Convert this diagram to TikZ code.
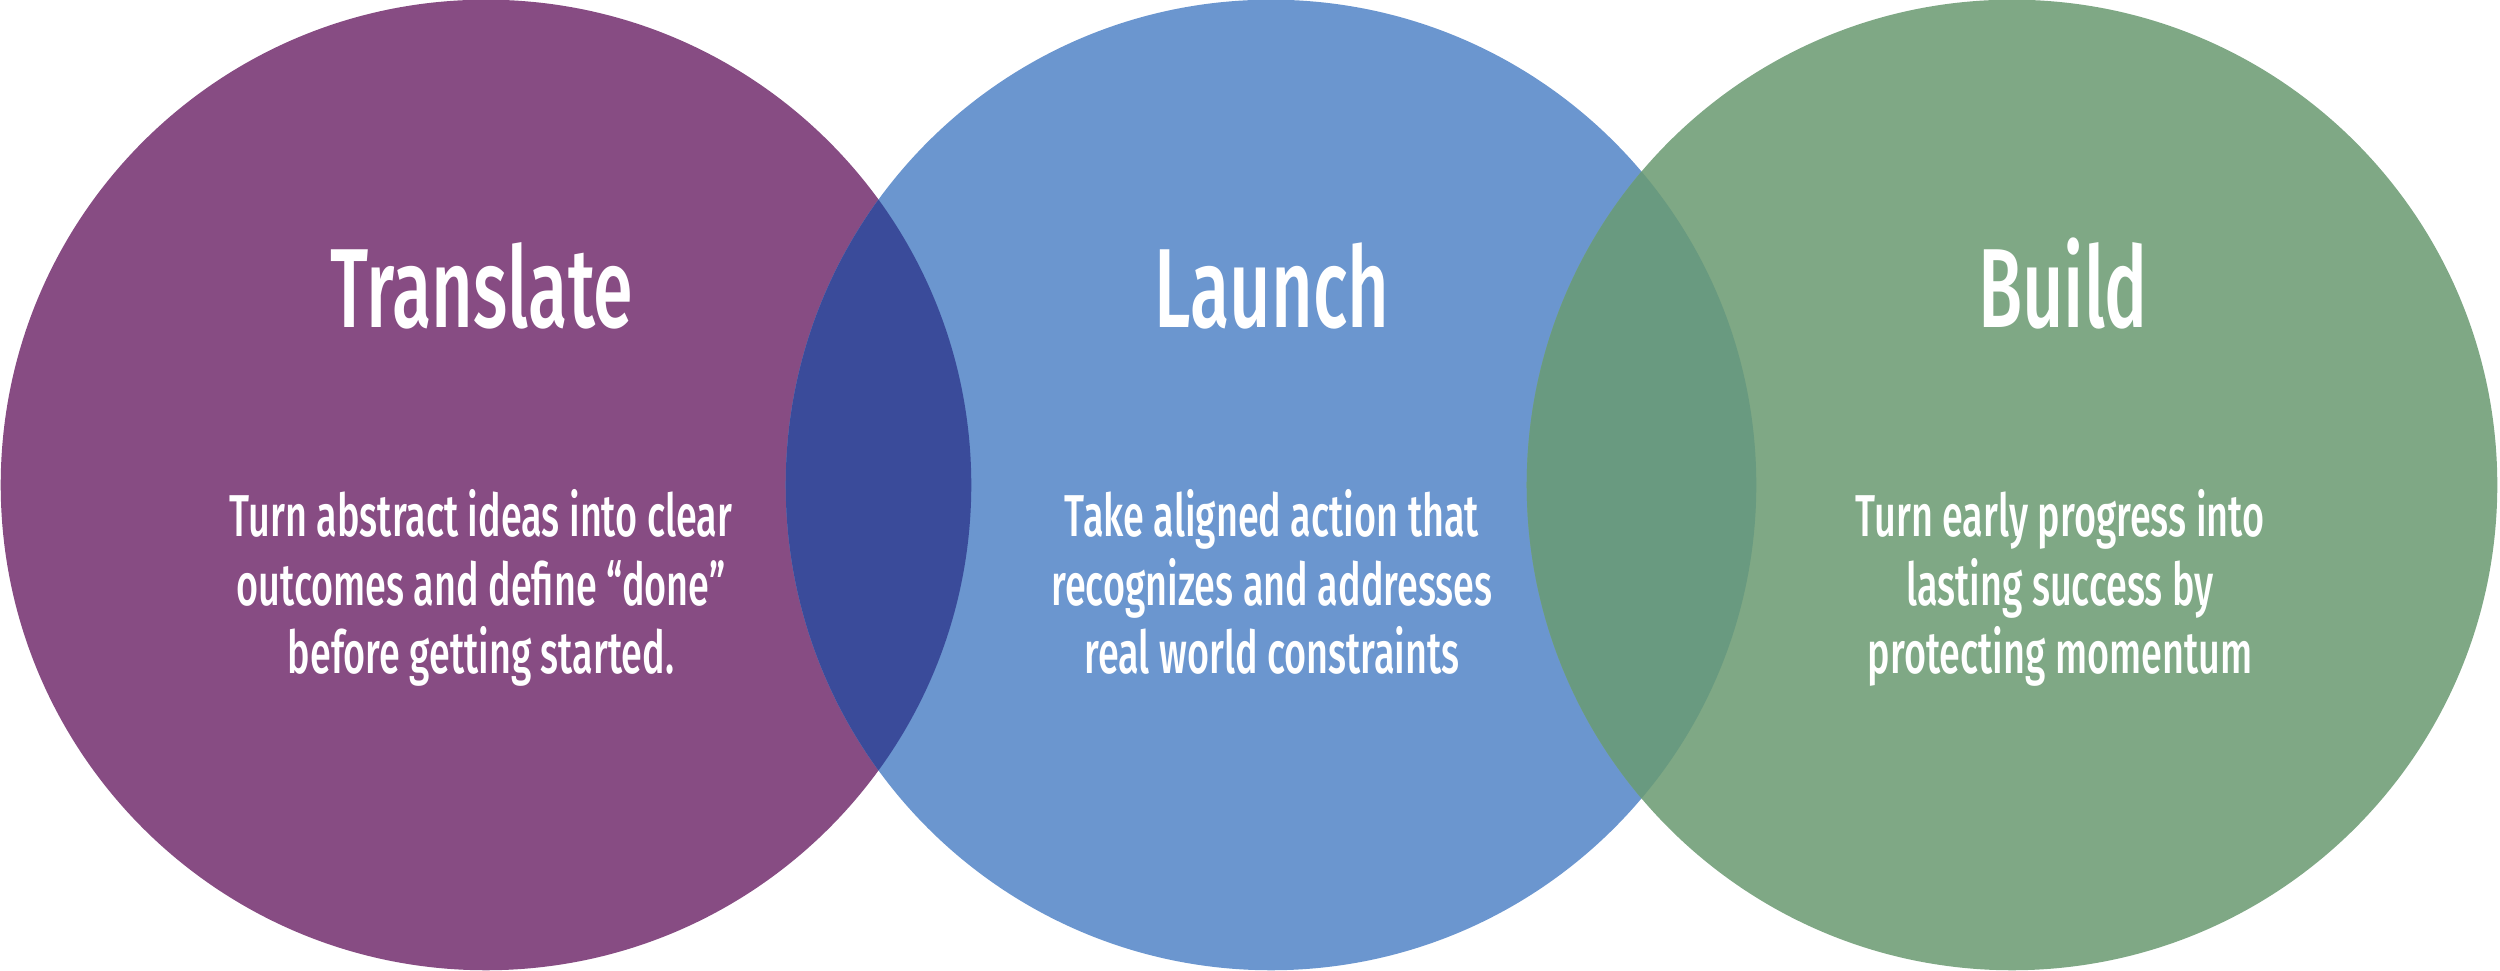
\documentclass[tikz,border=0pt]{standalone}
\usepackage{fontspec}
\setmainfont{Fira Sans}[FakeStretch=0.64, BoldFont={Fira Sans Medium}]
\usetikzlibrary{positioning}
\definecolor{plum}{RGB}{135,76,131}
\definecolor{skyblue}{RGB}{107,150,207}
\definecolor{sage}{RGB}{127,168,133}
\definecolor{deepblue}{RGB}{58,75,154}
\definecolor{seagreen}{RGB}{105,154,128}
\tikzset{
  ring/.style={circle, minimum size=9.7cm, inner sep=0pt, fill=#1},
  heading/.style={text=white, anchor=base, inner sep=0pt, font=\bfseries\fontsize{32}{38}\selectfont},
  blurb/.style={text=white, anchor=base, inner sep=0pt, align=center, font=\bfseries\fontsize{16.8}{19.6}\selectfont}
}

\begin{document}
\begin{tikzpicture}[x=0.01cm, y=0.01cm]
    \useasboundingbox (0,0) rectangle (2500,971);

    % Place circles
    \node [ring=plum] (translate) at (486,486) {};
    \node [ring=skyblue] (launch) at (1271,486) {};
    \node [ring=sage] (build) at (2012,486) {};

    % Overlaps
    \begin{scope}
      \clip (translate.center) circle [radius=4.85cm];
      \fill [deepblue] (launch.center) circle [radius=4.85cm];
    \end{scope}
    \begin{scope}
      \clip (launch.center) circle [radius=4.85cm];
      \fill [seagreen] (build.center) circle [radius=4.85cm];
    \end{scope}

    % Titles
    \node [heading] (translateTitle) at (482,643) {Translate};
    \node [heading] (launchTitle) at (1272,643) {Launch};
    \node [heading] (buildTitle) at (2063,643) {Build};

    % Descriptions (base = last line)
    \node [blurb] (translateText) at (481,297) {Turn abstract ideas into clear\\outcomes and define “done”\\before getting started.};
    \node [blurb] (launchText) at (1272,297) {Take aligned action that\\recognizes and addresses\\real world constraints};
    \node [blurb] (buildText) at (2060,297) {Turn early progress into\\lasting success by\\protecting momentum};
\end{tikzpicture}
\end{document}
